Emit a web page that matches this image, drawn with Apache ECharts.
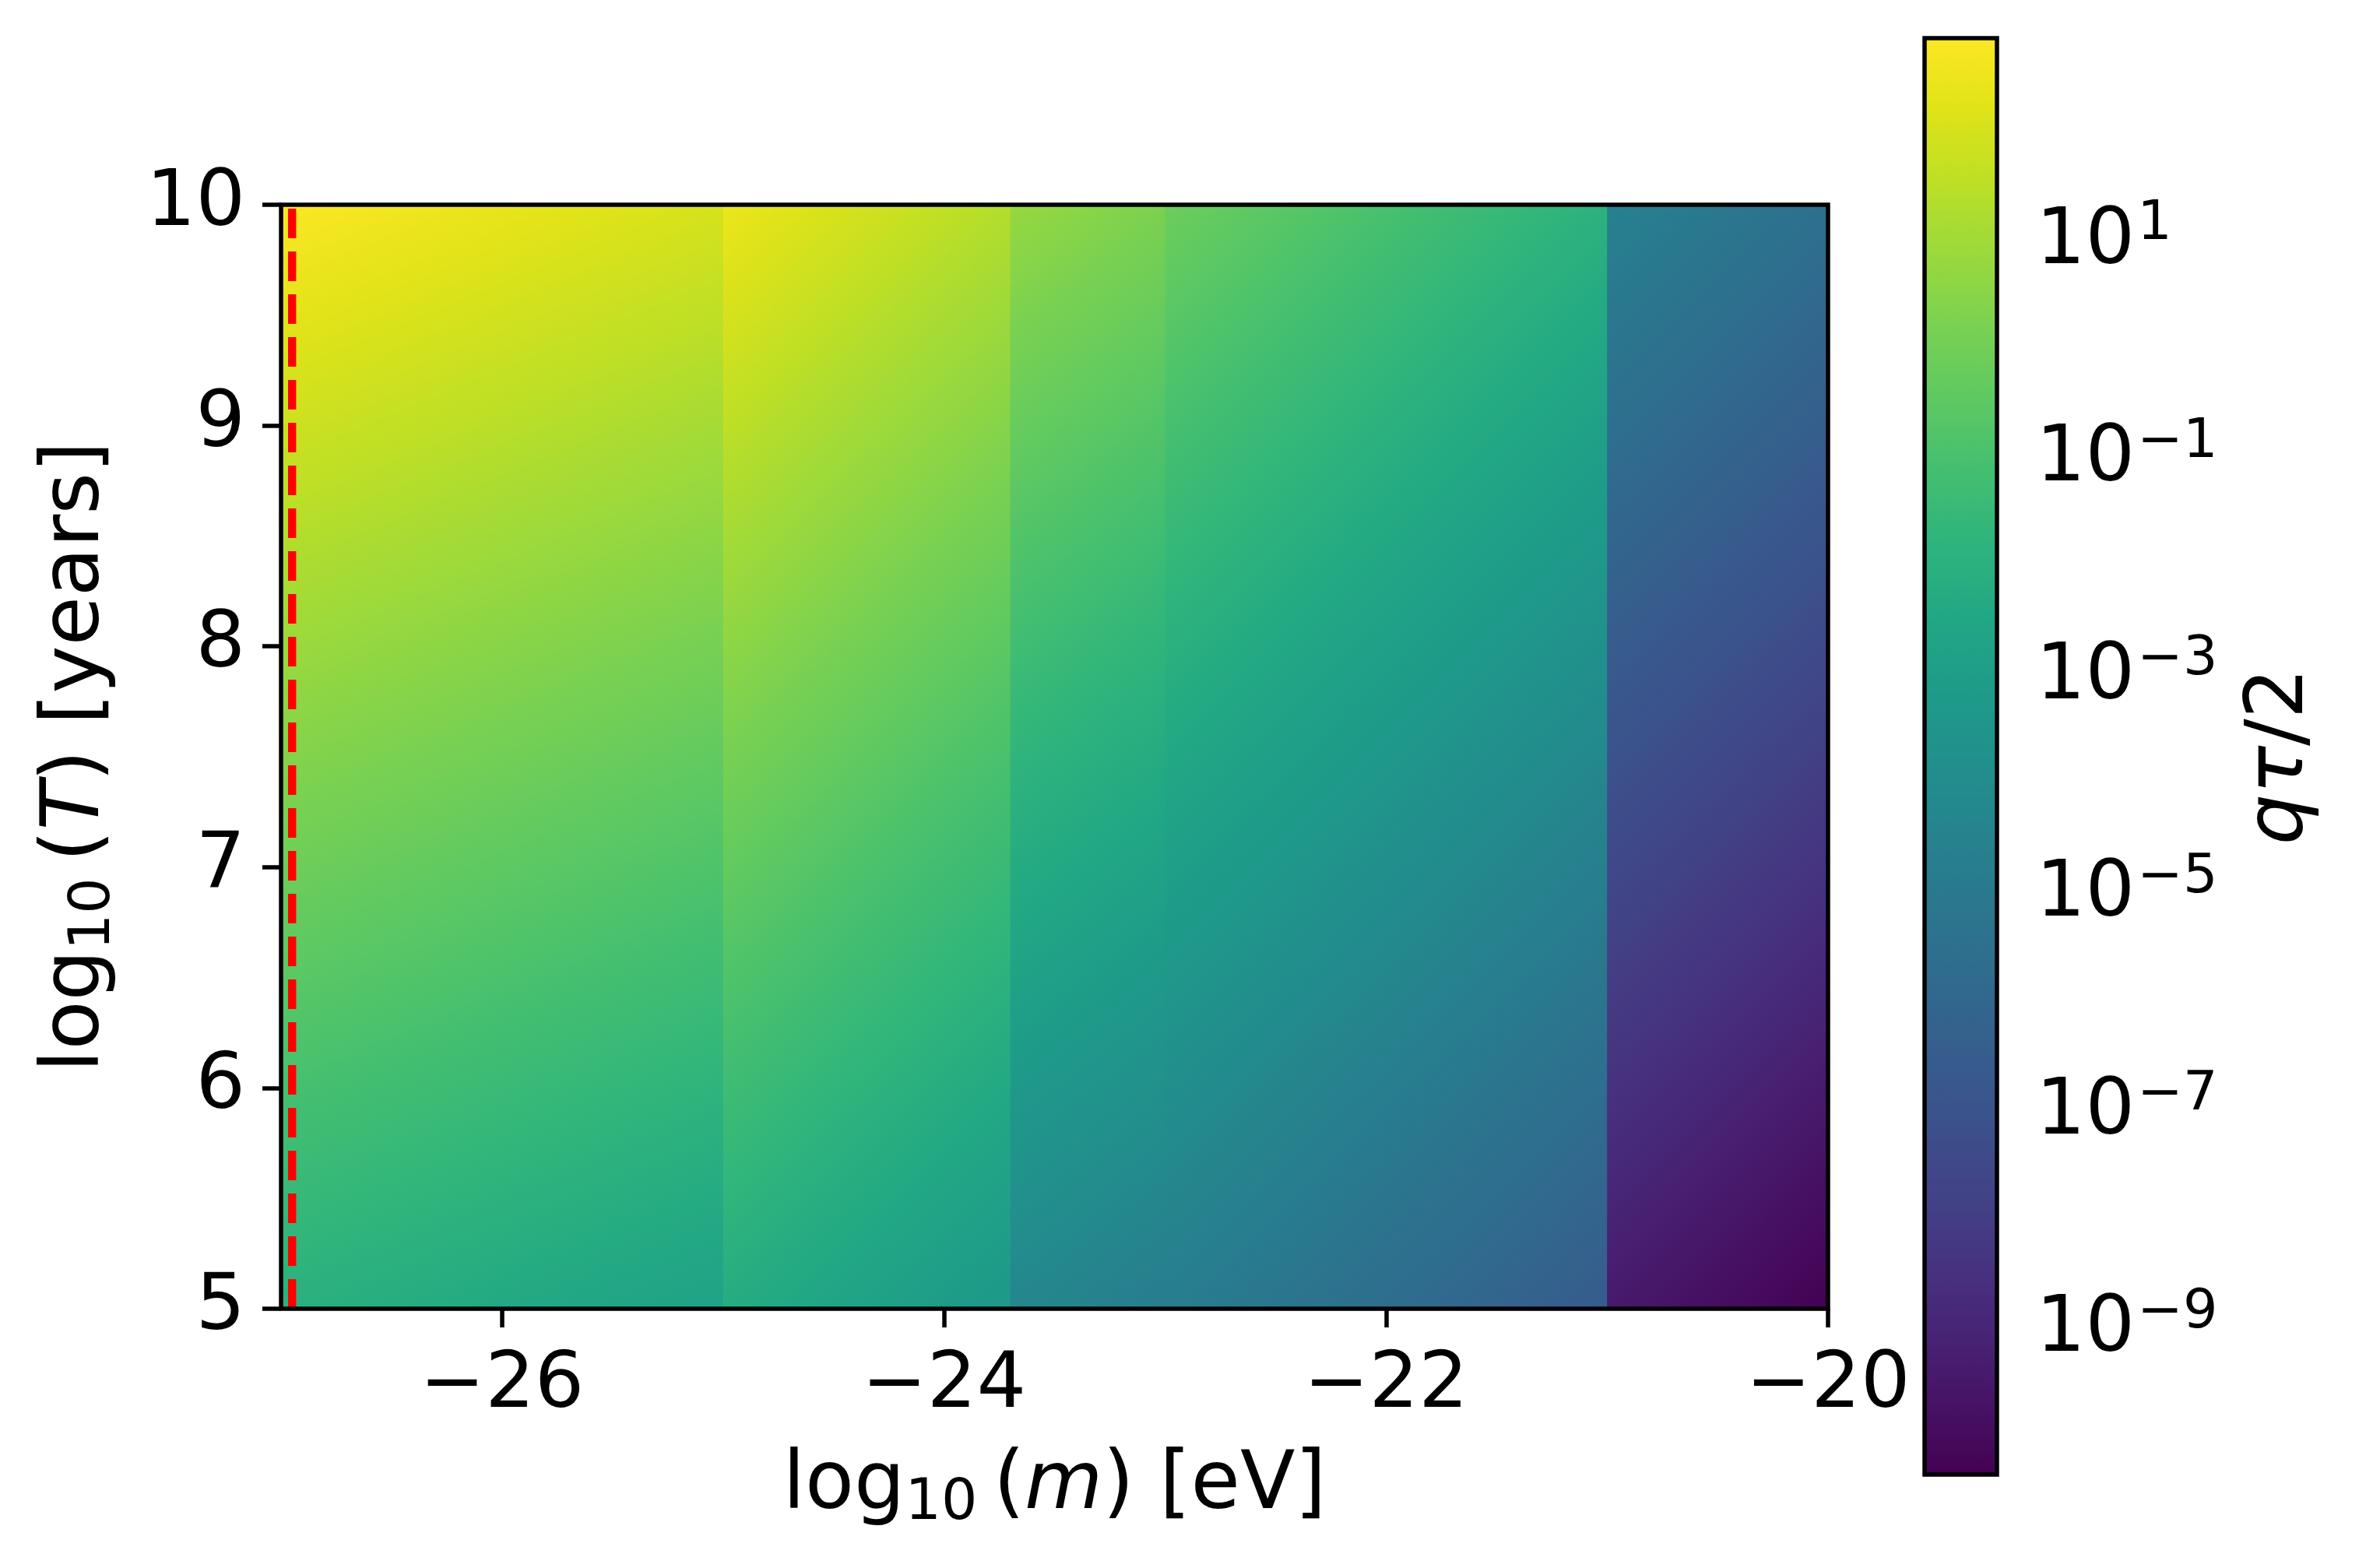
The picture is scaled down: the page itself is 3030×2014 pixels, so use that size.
<!DOCTYPE html>
<html>
<head>
<meta charset="utf-8">
<script src="https://cdn.jsdelivr.net/npm/echarts@6.0.0/dist/echarts.min.js"></script>
<style>
  html, body { margin: 0; padding: 0; background: #fff; }
  #chart { width: 3030px; height: 2014px; }
</style>
</head>
<body>
<div id="chart"></div>
<script>
// mass bands (log10 m [eV]) and their corner values of log10(q*tau/2)
const bandEdges = [-27, -25, -23.7, -23, -21, -20];
const tRange = [5, 10];
const topLeft = [2.88, 2.55, 0.8, -0.1, -4.5];
const topRight = [2.0, 1.35, 0.3, -1.85, -5.5];
const bottomLeft = [-2.0, -2.2, -4.2, -4.7, -9.4];
const bottomRight = [-2.7, -3.3, -4.8, -6.6, -10.32];

const cutoffM = -26.95;            // red dashed line
const xTicks = [-26, -24, -22, -20];
const cbarTicks = [1, -1, -3, -5, -7, -9];
const cbarRange = [-10.32, 2.88];  // log10 of colour limits

const FONT = 'DejaVu Sans';
const FS = 100;
const NFS = 103;
const SUP = 70;
const VIRIDIS = ['#440154', '#471365', '#482475', '#463480', '#414487', '#3b528b', '#355f8d',
  '#2f6c8e', '#2a788e', '#25848e', '#21918c', '#1e9c89', '#22a884', '#2fb47c', '#44bf70',
  '#5ec962', '#7ad151', '#9bd93c', '#bddf26', '#dfe318', '#fde725'];

const bandData = bandEdges.slice(0, -1).map((x0, i) =>
  [x0, bandEdges[i + 1], tRange[0], tRange[1], topLeft[i], topRight[i], bottomLeft[i], bottomRight[i]]);

const fmt = v => (v < 0 ? '\u2212' : '') + Math.abs(v);

const rich = {
  n: { fontSize: NFS, fontFamily: FONT, color: '#000', lineHeight: 118 },
  i: { fontSize: NFS, fontFamily: FONT, color: '#000', fontStyle: 'italic', lineHeight: 118 },
  sub: { fontSize: 73, fontFamily: FONT, color: '#000', lineHeight: 62, verticalAlign: 'bottom' },
  b: { fontSize: FS, fontFamily: FONT, color: '#000', lineHeight: 116 },
  sup: { fontSize: SUP, fontFamily: FONT, color: '#000', lineHeight: 52, verticalAlign: 'top', padding: [0, 0, 0, 3] }
};

function toColor(v) {
  let t = (v - cbarRange[0]) / (cbarRange[1] - cbarRange[0]);
  t = Math.max(0, Math.min(1, t));
  return echarts.color.lerp(t, VIRIDIS);
}

// each band is a rectangle filled with a linear gradient of the plane through its corners
function renderBand(params, api) {
  const x0 = api.value(0), x1 = api.value(1), y0 = api.value(2), y1 = api.value(3);
  const tl = api.value(4), tr = api.value(5), bl = api.value(6), br = api.value(7);
  const pTL = api.coord([x0, y1]);
  const pBR = api.coord([x1, y0]);
  const w = x1 - x0, h = y1 - y0;
  const gx = ((tr - tl) + (br - bl)) / 2 / w;
  const gy = ((tl - bl) + (tr - br)) / 2 / h;
  const c = (tl + tr + bl + br) / 4;
  const sx = (pBR[0] - pTL[0]) / w, sy = (pBR[1] - pTL[1]) / h;
  const a = gx / sx, b = -gy / sy;
  const g2 = a * a + b * b;
  const cx = (pTL[0] + pBR[0]) / 2, cy = (pTL[1] + pBR[1]) / 2;
  const corners = [[pTL[0], pTL[1]], [pBR[0], pTL[1]], [pTL[0], pBR[1]], [pBR[0], pBR[1]]];
  const fv = corners.map(p => c + a * (p[0] - cx) + b * (p[1] - cy));
  const fmin = Math.min.apply(null, fv), fmax = Math.max.apply(null, fv);
  const s0 = (fmin - c) / g2, s1 = (fmax - c) / g2;
  const stops = [];
  for (let k = 0; k <= 30; k++) {
    const t = k / 30;
    stops.push({ offset: t, color: toColor(fmin + t * (fmax - fmin)) });
  }
  return {
    type: 'rect',
    shape: { x: pTL[0], y: pTL[1], width: pBR[0] - pTL[0] + 1, height: pBR[1] - pTL[1] },
    style: {
      fill: new echarts.graphic.LinearGradient(cx + a * s0, cy + b * s0, cx + a * s1, cy + b * s1, stops, true)
    }
  };
}

const tick = { show: true, length: 24, lineStyle: { color: '#000', width: 5.5 } };

const chart = echarts.init(document.getElementById('chart'));
chart.setOption({
  backgroundColor: '#fff',
  animation: false,
  textStyle: { fontFamily: FONT, color: '#000' },
  grid: [
    { left: 361, top: 263, width: 1987, height: 1418, show: true, borderColor: '#000', borderWidth: 5.5, z: 10 },
    { left: 2472, top: 49, width: 93, height: 1845, show: true, borderColor: '#000', borderWidth: 5.5, z: 10 }
  ],
  xAxis: [
    {
      type: 'value', gridIndex: 0, min: -27, max: -20,
      axisLine: { show: false },
      axisTick: Object.assign({ customValues: xTicks }, tick),
      axisLabel: { customValues: xTicks, formatter: fmt, fontSize: FS, fontFamily: FONT, color: '#000', margin: 42, lineHeight: 116 },
      splitLine: { show: false },
      name: '{n|log}{sub|10}{n|\u2009(}{i|m}{n|) [eV]}',
      nameLocation: 'middle', nameGap: 170,
      nameTextStyle: { rich: rich }
    },
    { type: 'value', gridIndex: 1, min: 0, max: 1, show: false }
  ],
  yAxis: [
    {
      type: 'value', gridIndex: 0, min: 5, max: 10, interval: 1,
      axisLine: { show: false },
      axisTick: tick,
      axisLabel: { formatter: fmt, fontSize: FS, fontFamily: FONT, color: '#000', margin: 46 },
      splitLine: { show: false },
      name: '{n|log}{sub|10}{n|\u2009(}{i|T}{n|) [years]}',
      nameLocation: 'middle', nameRotate: 90, nameGap: 203,
      nameTextStyle: { rich: rich }
    },
    {
      type: 'value', gridIndex: 1, position: 'right', min: cbarRange[0], max: cbarRange[1],
      axisLine: { show: false },
      axisTick: Object.assign({ customValues: cbarTicks }, tick),
      axisLabel: {
        customValues: cbarTicks, margin: 50,
        formatter: v => '{b|10}{sup|' + fmt(v) + '}',
        rich: rich
      },
      splitLine: { show: false },
      name: '{i|q\u03c4}{n|/2}',
      nameLocation: 'middle', nameRotate: 90, nameGap: 306,
      nameTextStyle: { rich: rich }
    }
  ],
  visualMap: {
    type: 'continuous', min: cbarRange[0], max: cbarRange[1],
    seriesIndex: 0, dimension: 4,
    inRange: { color: VIRIDIS },
    orient: 'vertical', left: 2472, top: 49, itemWidth: 93, itemHeight: 1845,
    padding: 0, calculable: false, showLabel: false, text: null, hoverLink: false
  },
  series: [
    {
      type: 'custom', xAxisIndex: 0, yAxisIndex: 0,
      encode: { x: [0, 1], y: [2, 3] },
      renderItem: renderBand,
      data: bandData, clip: true, silent: true, z: 2
    },
    {
      type: 'line', xAxisIndex: 0, yAxisIndex: 0,
      data: [[cutoffM, tRange[0]], [cutoffM, tRange[1]]],
      showSymbol: false, silent: true, z: 3,
      lineStyle: { color: '#ff0000', width: 10.4, type: [38, 17] }
    }
  ]
});
</script>
</body>
</html>
